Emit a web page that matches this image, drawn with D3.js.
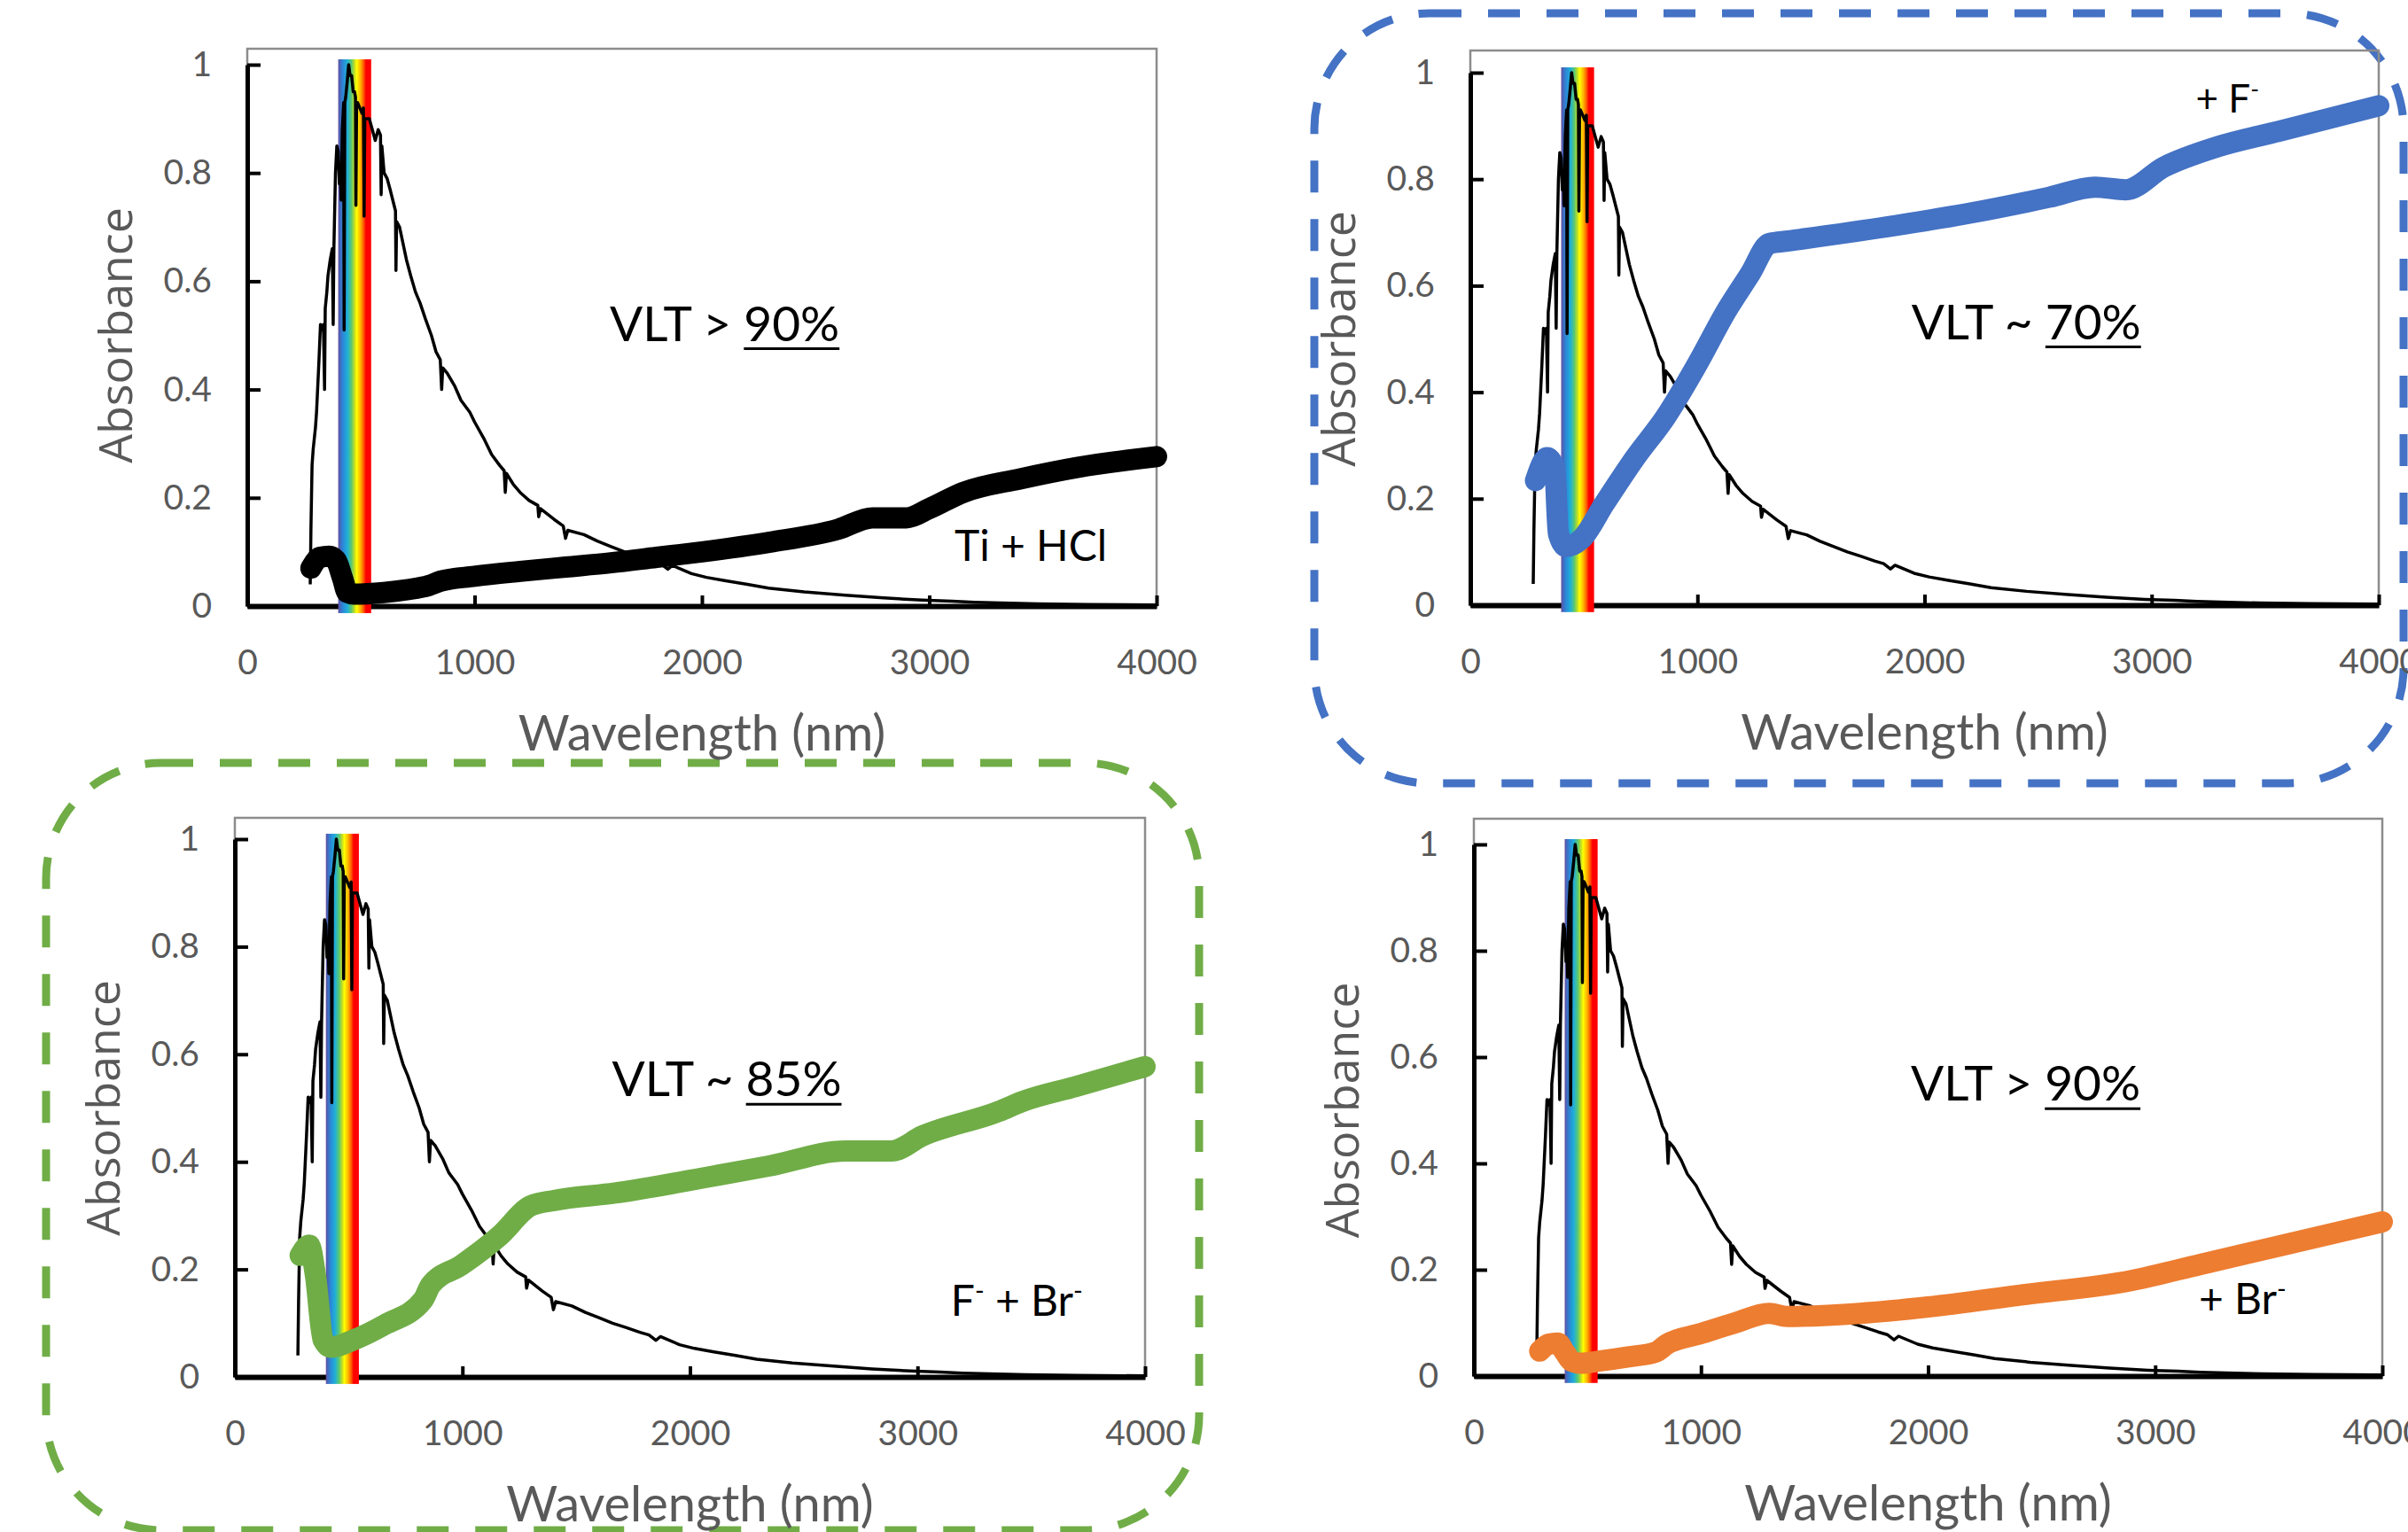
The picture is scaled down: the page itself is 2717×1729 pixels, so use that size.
<!DOCTYPE html>
<html>
<head>
<meta charset="utf-8">
<script src="https://cdn.jsdelivr.net/npm/d3@7"></script>
<style>
  body { margin: 0; background: #fff; }
</style>
</head>
<body>
<svg id="fig" width="2717" height="1729"></svg>
<script>
// axis ticks
var wavelengthTicks = [0, 1000, 2000, 3000, 4000];
var absorbanceTicks = [0, 0.2, 0.4, 0.6, 0.8, 1];

// visible band shown as rainbow strip (nm)
var visibleBand = [400, 545];

// reference solar spectrum (normalised) [nm, value]
var solarSpectrum = [
  [277, 0.04], [280, 0.14], [285, 0.26], [290, 0.29], [300, 0.33], [305, 0.36], [315, 0.45],
  [322, 0.52], [330, 0.51], [335, 0.52], [340, 0.40], [343, 0.55], [350, 0.58], [355, 0.61],
  [365, 0.64], [374, 0.66], [378, 0.52], [381, 0.66], [388, 0.80], [394, 0.85], [400, 0.84],
  [405, 0.78], [410, 0.80], [413, 0.75], [418, 0.88], [424, 0.93], [426, 0.51], [429, 0.93],
  [433, 0.94], [440, 0.97], [446, 1.0], [452, 0.98], [459, 0.98], [466, 0.95], [472, 0.95],
  [476, 0.94], [478, 0.74], [481, 0.93], [485, 0.93], [495, 0.92], [505, 0.91], [511, 0.92],
  [514, 0.72], [517, 0.90], [525, 0.90], [537, 0.90], [550, 0.88], [563, 0.86], [576, 0.88],
  [586, 0.87], [589, 0.76], [592, 0.85], [602, 0.80], [615, 0.79], [628, 0.77], [640, 0.75],
  [652, 0.73], [654, 0.62], [657, 0.71], [670, 0.70], [685, 0.67], [700, 0.64], [719, 0.61],
  [740, 0.58], [760, 0.56], [784, 0.53], [810, 0.50], [830, 0.47], [849, 0.455], [855, 0.40],
  [860, 0.44], [880, 0.43], [913, 0.406], [940, 0.38], [979, 0.358], [1000, 0.34], [1040, 0.31],
  [1075, 0.28], [1110, 0.26], [1130, 0.25], [1135, 0.21], [1140, 0.245], [1170, 0.225],
  [1200, 0.21], [1240, 0.195], [1278, 0.186], [1282, 0.165], [1290, 0.18], [1350, 0.16],
  [1390, 0.148], [1400, 0.125], [1410, 0.14], [1481, 0.132], [1540, 0.12], [1600, 0.11],
  [1660, 0.10], [1718, 0.092], [1780, 0.083], [1820, 0.078], [1850, 0.068], [1870, 0.075],
  [1954, 0.06], [2020, 0.053], [2100, 0.047], [2200, 0.04], [2293, 0.033], [2450, 0.026],
  [2631, 0.02], [2800, 0.015], [2969, 0.011], [3100, 0.009], [3200, 0.007], [3476, 0.004],
  [3700, 0.003], [4000, 0.002]
];

// measured absorbance of the films [nm, absorbance]
var tiHcl = [
  [280, 0.07], [320, 0.09], [360, 0.092], [390, 0.085], [420, 0.05], [440, 0.025], [470, 0.022],
  [600, 0.025], [700, 0.03], [800, 0.038], [850, 0.046], [1000, 0.055], [1200, 0.064], [1400, 0.072],
  [1600, 0.08], [1800, 0.09], [2000, 0.10], [2300, 0.118], [2600, 0.142], [2750, 0.163],
  [2900, 0.163], [3000, 0.18], [3150, 0.21], [3400, 0.235], [3650, 0.256], [4000, 0.276]
];
var fluoride = [
  [287, 0.234], [338, 0.277], [371, 0.258], [388, 0.134], [422, 0.11], [489, 0.124], [591, 0.191],
  [726, 0.277], [861, 0.354], [996, 0.45], [1131, 0.555], [1232, 0.622], [1316, 0.679],
  [1401, 0.684], [1873, 0.713], [2211, 0.737], [2549, 0.766], [2751, 0.785], [2886, 0.78],
  [3055, 0.823], [3291, 0.861], [3561, 0.89], [4000, 0.938]
];
var fluorideBromide = [
  [287, 0.226], [327, 0.245], [354, 0.189], [388, 0.069], [422, 0.055], [523, 0.069], [658, 0.097],
  [827, 0.143], [861, 0.171], [996, 0.208], [1165, 0.263], [1300, 0.318], [1401, 0.328],
  [1671, 0.342], [2110, 0.374], [2346, 0.392], [2684, 0.42], [2886, 0.42], [3021, 0.448],
  [3359, 0.494], [3460, 0.512], [3696, 0.54], [4000, 0.577]
];
var bromide = [
  [290, 0.047], [330, 0.06], [370, 0.062], [400, 0.045], [430, 0.028], [470, 0.024], [550, 0.028],
  [680, 0.036], [800, 0.045], [850, 0.06], [1000, 0.08], [1150, 0.10], [1300, 0.118],
  [1380, 0.112], [1700, 0.118], [2000, 0.13], [2400, 0.152], [2900, 0.18], [3200, 0.21],
  [3550, 0.245], [4000, 0.29]
];

// annotation text
var vltSigns = ["> ", "~ ", "~ ", "> "];
var vltValues = ["90%", "70%", "85%", "90%"];
var sampleLabels = [
  [["Ti + HCl", 0]],
  [["+ F", 0], ["-", 1]],
  [["F", 0], ["-", 1], [" + Br", 0], ["-", 1]],
  [["+ Br", 0], ["-", 1]]
];

// layout of the four panels (pixels) and where the notes sit (data units)
var panels = [
  { data: tiHcl, color: "#000000", left: 279, right: 1305, top: 55, y0: 684, y1: 73,
    vltAt: [1595, 0.49], labAt: [3111, 0.083], labSize: 48 },
  { data: fluoride, color: "#4472C4", left: 1659, right: 2684, top: 57, y0: 683, y1: 82,
    vltAt: [1942, 0.50], labAt: [3194, 0.925], labSize: 44 },
  { data: fluorideBromide, color: "#70AD47", left: 265, right: 1292, top: 923, y0: 1554, y1: 947,
    vltAt: [1657, 0.522], labAt: [3146, 0.114], labSize: 48 },
  { data: bromide, color: "#ED7D31", left: 1663, right: 2688, top: 924, y0: 1553, y1: 953,
    vltAt: [1924, 0.518], labAt: [3192, 0.117], labSize: 48 }
];

var svg = d3.select("#fig");
svg.append("rect").attr("width", 2717).attr("height", 1729).attr("fill", "#fff");

var defs = svg.append("defs");
var grad = defs.append("linearGradient").attr("id", "rainbow")
  .attr("x1", 0).attr("x2", 1).attr("y1", 0).attr("y2", 0);
[[0, "#6a4c9c"], [0.04, "#4a62b8"], [0.15, "#2a8ad8"], [0.28, "#1fb0d8"], [0.40, "#5cc870"],
 [0.50, "#c8e020"], [0.56, "#ffff00"], [0.68, "#ffb000"], [0.78, "#ff5000"], [0.84, "#ff0000"],
 [1, "#ff0000"]].forEach(function(s) {
  grad.append("stop").attr("offset", s[0]).attr("stop-color", s[1]);
});

// dashed highlight boxes
svg.append("rect")
  .attr("x", 1483).attr("y", 15).attr("width", 1229).attr("height", 869)
  .attr("rx", 130).attr("ry", 130)
  .attr("fill", "none").attr("stroke", "#4472C4").attr("stroke-width", 9)
  .attr("stroke-dasharray", "36 30");
svg.append("rect")
  .attr("x", 52).attr("y", 861).attr("width", 1301).attr("height", 866)
  .attr("rx", 130).attr("ry", 130)
  .attr("fill", "none").attr("stroke", "#70AD47").attr("stroke-width", 9)
  .attr("stroke-dasharray", "36 30");

panels.forEach(function(p, i) {
  var x = d3.scaleLinear().domain([0, 4000]).range([p.left, p.right]);
  var y = d3.scaleLinear().domain([0, 1]).range([p.y0, p.y1]);
  var g = svg.append("g");

  // plot area frame
  g.append("rect")
    .attr("x", p.left).attr("y", p.top)
    .attr("width", p.right - p.left).attr("height", p.y0 - p.top)
    .attr("fill", "none").attr("stroke", "#8c8c8c").attr("stroke-width", 2.5);

  var yAxis = g.append("g")
    .attr("transform", "translate(" + p.left + ",0)")
    .call(d3.axisLeft(y).tickValues(absorbanceTicks).tickSize(-15).tickSizeOuter(0)
      .tickPadding(40).tickFormat(function(d) { return String(d); }));
  yAxis.select(".domain").attr("stroke", "#000").attr("stroke-width", 5);
  yAxis.selectAll(".tick line").attr("stroke", "#000").attr("stroke-width", 4);

  var xAxis = g.append("g")
    .attr("transform", "translate(0," + p.y0 + ")")
    .call(d3.axisBottom(x).tickValues(wavelengthTicks).tickSize(-12).tickSizeOuter(0)
      .tickPadding(49).tickFormat(d3.format("d")));
  xAxis.select(".domain").attr("stroke", "#000").attr("stroke-width", 6);
  xAxis.selectAll(".tick line").attr("stroke", "#000").attr("stroke-width", 4);

  g.selectAll(".tick text")
    .attr("font-family", "Lato, sans-serif").attr("font-size", 39).attr("fill", "#595959");

  // axis titles
  g.append("text")
    .attr("transform", "translate(" + (p.left - 148) + "," + ((p.y0 + p.y1) / 2) + ") rotate(-90)")
    .attr("text-anchor", "middle").attr("dy", "0.35em")
    .attr("font-family", "'Open Sans', sans-serif").attr("font-size", 52).attr("fill", "#595959")
    .text("Absorbance");
  g.append("text")
    .attr("x", (p.left + p.right) / 2).attr("y", p.y0 + 163)
    .attr("text-anchor", "middle")
    .attr("font-family", "Lato, sans-serif").attr("font-size", 56).attr("fill", "#595959")
    .text("Wavelength (nm)");

  // visible-light strip
  g.append("rect")
    .attr("x", x(visibleBand[0])).attr("y", y(1.01))
    .attr("width", x(visibleBand[1]) - x(visibleBand[0]))
    .attr("height", y(-0.013) - y(1.01))
    .attr("fill", "url(#rainbow)");

  // solar spectrum
  g.append("path")
    .datum(solarSpectrum)
    .attr("fill", "none").attr("stroke", "#000").attr("stroke-width", 3.5)
    .attr("stroke-linejoin", "round")
    .attr("d", d3.line().x(function(d) { return x(d[0]); }).y(function(d) { return y(d[1]); }));

  // measured film
  g.append("path")
    .datum(p.data)
    .attr("fill", "none").attr("stroke", p.color).attr("stroke-width", 24)
    .attr("stroke-linecap", "round").attr("stroke-linejoin", "round")
    .attr("d", d3.line().curve(d3.curveMonotoneX)
      .x(function(d) { return x(d[0]); }).y(function(d) { return y(d[1]); }));

  // VLT note with underlined value
  var vx = x(p.vltAt[0]), vy = y(p.vltAt[1]);
  var vlt = g.append("text")
    .attr("x", vx).attr("y", vy)
    .attr("font-family", "Lato, sans-serif").attr("font-size", 55).attr("fill", "#000")
    .text("VLT " + vltSigns[i] + vltValues[i]);
  var pre = ("VLT " + vltSigns[i]).length;
  var node = vlt.node();
  var start = node.getSubStringLength(0, pre);
  var total = node.getComputedTextLength();
  g.append("line")
    .attr("x1", vx + start).attr("x2", vx + total)
    .attr("y1", vy + 9).attr("y2", vy + 9)
    .attr("stroke", "#000").attr("stroke-width", 3);

  // sample label with superscript charges
  var lab = g.append("text")
    .attr("x", x(p.labAt[0])).attr("y", y(p.labAt[1]))
    .attr("font-family", "Lato, sans-serif").attr("font-size", p.labSize).attr("fill", "#000");
  var raised = false;
  sampleLabels[i].forEach(function(part) {
    var t = lab.append("tspan").text(part[0]);
    if (part[1]) {
      t.attr("font-size", p.labSize * 0.6).attr("dy", -p.labSize * 0.38);
      raised = true;
    } else if (raised) {
      t.attr("dy", p.labSize * 0.38);
      raised = false;
    }
  });
});
</script>
</body>
</html>
